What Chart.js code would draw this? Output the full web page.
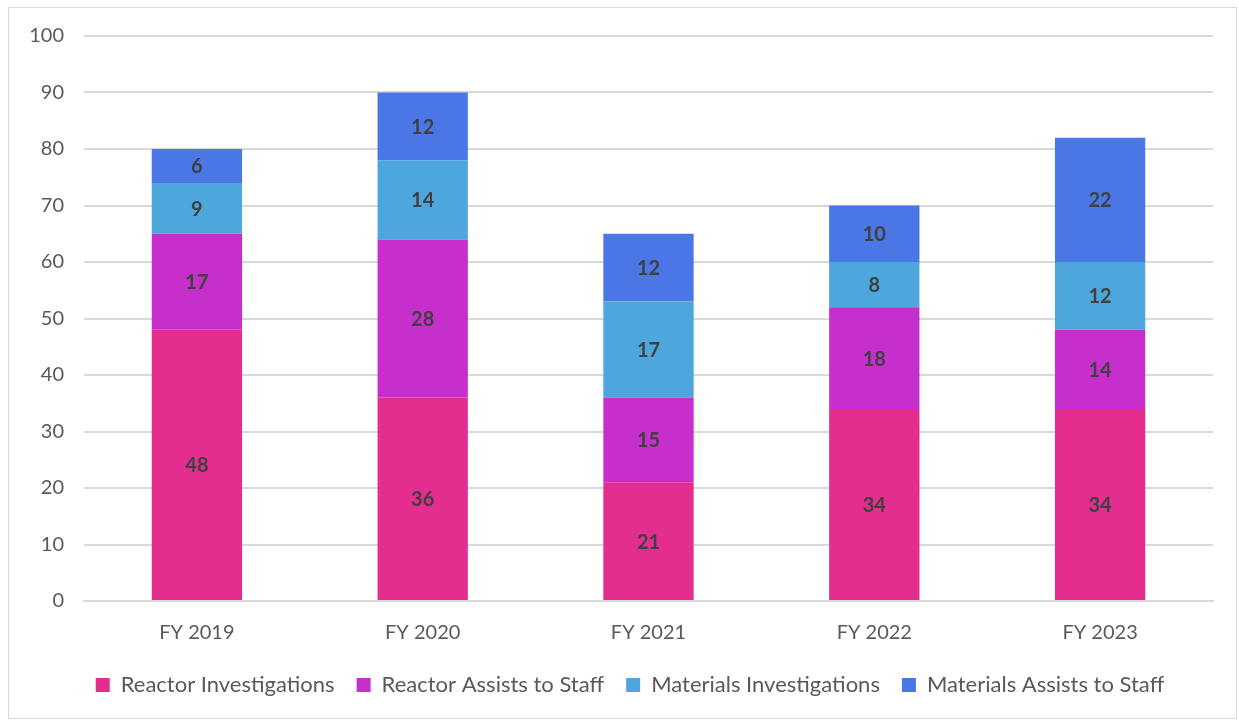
<!DOCTYPE html>
<html>
<head>
<meta charset="utf-8">
<script src="https://cdn.jsdelivr.net/npm/chart.js@4"></script>
<style>
  html, body { margin: 0; padding: 0; background: #fff; }
  #box {
    position: absolute; left: 8px; top: 7px;
    width: 1227px; height: 710px;
    border: 1px solid #d9d9d9;
  }
</style>
</head>
<body>
<div id="box"><canvas id="chart"></canvas></div>
<script>
// data
const years = ['FY 2019', 'FY 2020', 'FY 2021', 'FY 2022', 'FY 2023'];
const reactorInvestigations = [48, 36, 21, 34, 34];
const reactorAssists = [17, 28, 15, 18, 14];
const materialsInvestigations = [9, 14, 17, 8, 12];
const materialsAssists = [6, 12, 12, 10, 22];

const font = 'Lato, "Open Sans", sans-serif';

// draws the value in the middle of each segment
const segmentLabels = {
  id: 'segmentLabels',
  afterDatasetsDraw(chart) {
    const ctx = chart.ctx;
    ctx.save();
    ctx.font = 'bold 20px ' + font;
    ctx.fillStyle = '#404040';
    ctx.textAlign = 'center';
    ctx.textBaseline = 'middle';
    chart.data.datasets.forEach((ds, i) => {
      chart.getDatasetMeta(i).data.forEach((bar, j) => {
        const mid = (bar.y + bar.base) / 2;
        ctx.fillText(ds.data[j], bar.x, mid + 1);
      });
    });
    ctx.restore();
  }
};

// legend takes less room above it and sits a bit to the right
const legendNudge = {
  id: 'legendNudge',
  beforeInit(chart) {
    const lg = chart.legend;
    const fit = lg.fit;
    lg.fit = function () {
      fit.call(this);
      this.height -= 13;
    };
  },
  afterLayout(chart) {
    const lg = chart.legend;
    lg.top -= 13; lg.height += 13;
    lg.left += 19; lg.right += 19;
  }
};

new Chart(document.getElementById('chart'), {
  type: 'bar',
  data: {
    labels: years,
    datasets: [
      { label: 'Reactor Investigations', data: reactorInvestigations, backgroundColor: '#E32D8F' },
      { label: 'Reactor Assists to Staff', data: reactorAssists, backgroundColor: '#C62FCB' },
      { label: 'Materials Investigations', data: materialsInvestigations, backgroundColor: '#4EA7DC' },
      { label: 'Materials Assists to Staff', data: materialsAssists, backgroundColor: '#4A76E6' }
    ]
  },
  options: {
    responsive: true,
    maintainAspectRatio: false,
    animation: false,
    barPercentage: 0.4,
    categoryPercentage: 1,
    layout: { padding: { top: 28, right: 23, left: 0, bottom: 12 } },
    scales: {
      x: {
        stacked: true,
        grid: { display: false, drawTicks: false },
        border: { color: '#d9d9d9', width: 2 },
        ticks: { color: '#595959', font: { family: font, size: 20 }, padding: 20 }
      },
      y: {
        stacked: true,
        min: 0, max: 100,
        ticks: { stepSize: 10, color: '#595959', font: { family: font, size: 20 }, padding: 20 },
        grid: { color: '#d9d9d9', lineWidth: 2, drawTicks: false },
        border: { display: false },
        afterFit: s => { s.width = 75; s.paddingTop = 0; s.paddingBottom = 0; }
      }
    },
    plugins: {
      legend: {
        position: 'bottom',
        labels: {
          color: '#595959',
          font: { family: font, size: 22 },
          boxWidth: 14, boxHeight: 14,
          padding: 22
        }
      },
      tooltip: { enabled: false }
    }
  },
  plugins: [segmentLabels, legendNudge]
});
</script>
</body>
</html>
